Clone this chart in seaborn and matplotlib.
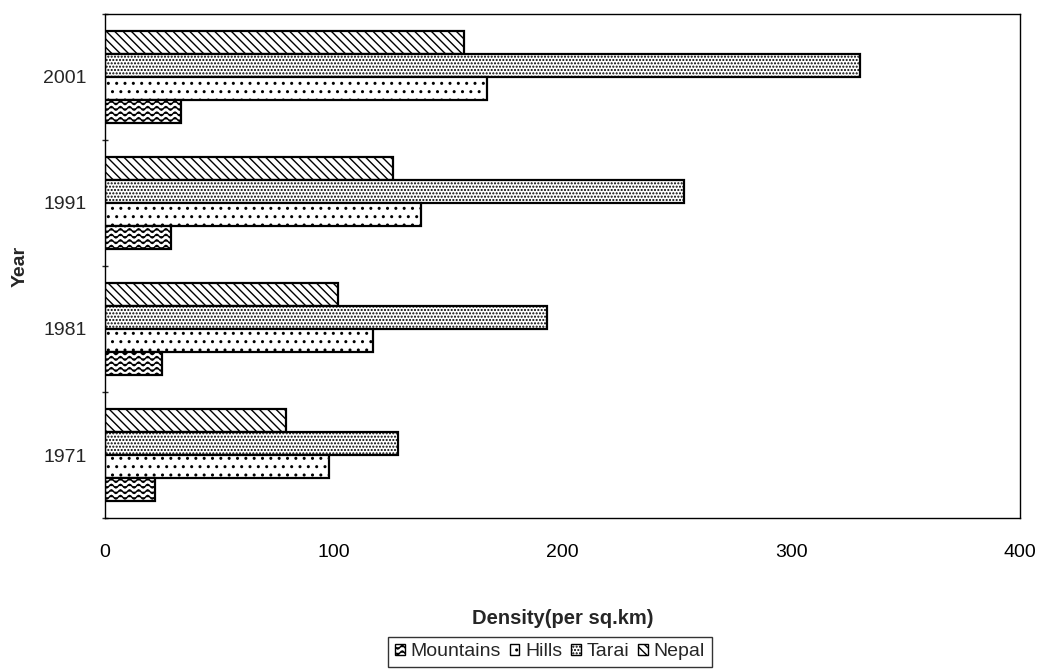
import numpy as np
import pandas as pd
import matplotlib
matplotlib.use("Agg")
import matplotlib.pyplot as plt
import matplotlib.hatch as mhatch
from matplotlib.path import Path
from matplotlib.patches import Patch
import seaborn as sns

# ---- data ----
years = ["1971", "1981", "1991", "2001"]
mountains = [22, 25, 29, 33]
hills = [98, 117, 138, 167]
tarai = [128, 193, 253, 330]
nepal = [79, 102, 126, 157]
region_names = ["Mountains", "Hills", "Tarai", "Nepal"]
x_ticks = [0, 100, 200, 300, 400]


# ---- wavy hatch (replaces the horizontal '-' hatch) ----
class WavyHatch(mhatch.HatchPatternBase):
    periods = 11
    samples = 8

    def __init__(self, hatch, density):
        self.num_lines = int((hatch.count('-') + hatch.count('+')) * density)
        self.pts = self.periods * self.samples + 1
        self.num_vertices = self.num_lines * self.pts

    def set_vertices_and_codes(self, vertices, codes):
        steps, stepsize = np.linspace(0.0, 1.0, self.num_lines, False, retstep=True)
        steps += stepsize / 2.0
        xs = np.linspace(0.0, 1.0, self.pts)
        ys = stepsize * 0.33 * np.sin(2 * np.pi * self.periods * xs)
        for i, s in enumerate(steps):
            sl = slice(i * self.pts, (i + 1) * self.pts)
            vertices[sl, 0] = xs
            vertices[sl, 1] = s + ys
            codes[sl] = Path.LINETO
            codes[i * self.pts] = Path.MOVETO


mhatch._hatch_types = [WavyHatch if t is mhatch.HorizontalHatch else t
                       for t in mhatch._hatch_types]

sns.set_style("white")
plt.rcParams["font.family"] = ["Liberation Sans", "DejaVu Sans"]
plt.rcParams["hatch.linewidth"] = 1.0

df = pd.DataFrame({
    "Year": years * 4,
    "Region": sum([[r] * len(years) for r in region_names], []),
    "Density": mountains + hills + tarai + nepal,
})

hatches = {"Mountains": "---", "Hills": "..", "Tarai": ".....", "Nepal": "\\\\\\\\"}
hue_order = ["Nepal", "Tarai", "Hills", "Mountains"]
order = ["2001", "1991", "1981", "1971"]

fig = plt.figure(figsize=(10.4, 6.69), dpi=100)
ax = fig.add_axes([0.101, 0.2257, 0.880, 0.7534])

sns.barplot(data=df, x="Density", y="Year", hue="Region", order=order,
            hue_order=hue_order, orient="h", width=0.73,
            palette=["white"] * 4, saturation=1, edgecolor="black",
            linewidth=1.6, errorbar=None, legend=False, ax=ax)

for cont, name in zip(ax.containers, hue_order):
    for bar in cont:
        bar.set_hatch(hatches[name])
        bar.set_edgecolor("black")

ax.set_xlim(0, 400)
ax.set_xticks(x_ticks)
ax.set_xticklabels([str(t) for t in x_ticks], fontsize=14)
ax.tick_params(axis="x", direction="in", length=5, width=1, pad=19, colors="black")
ax.tick_params(axis="y", which="major", length=0, pad=13, labelsize=14)
ax.set_yticks([-0.5, 0.5, 1.5, 2.5, 3.5], minor=True)
ax.tick_params(axis="y", which="minor", direction="inout", length=5, width=1, left=True)

for sp in ax.spines.values():
    sp.set_visible(True)
    sp.set_color("black")
    sp.set_linewidth(1.0)

ax.set_xlabel("Density(per sq.km)", fontsize=14.5, fontweight="bold")
ax.set_ylabel("Year", fontsize=14, fontweight="bold")
ax.xaxis.set_label_coords(0.5, -0.18)
ax.yaxis.set_label_coords(-0.083, 0.5)

handles = [Patch(facecolor="white", edgecolor="black", hatch=hatches[n], linewidth=1)
           for n in region_names]
leg = fig.legend(handles, region_names, loc="center", ncol=4,
                 bbox_to_anchor=(550 / 1040, 1 - 652 / 669), fontsize=14,
                 frameon=True, fancybox=False, edgecolor="black",
                 handlelength=0.5, handleheight=0.5, handletextpad=0.3,
                 columnspacing=0.45, borderpad=0.35, borderaxespad=0.2)
leg.get_frame().set_linewidth(1.0)

fig.savefig("out.png", dpi=100)
